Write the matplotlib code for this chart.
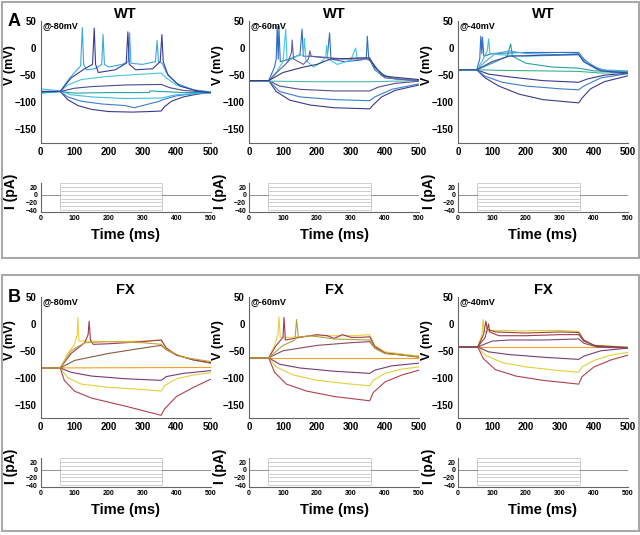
import matplotlib.pyplot as plt
from matplotlib.patches import Rectangle

plt.rcParams['font.family'] = ['Liberation Sans', 'DejaVu Sans']
plt.rcParams['font.weight'] = 'bold'
plt.rcParams['axes.labelweight'] = 'bold'
plt.rcParams['axes.titleweight'] = 'bold'

# ---- voltage traces, (time ms, V mV) points ----
wt_80 = [
    [(0, -80), (58, -80), (80, -95), (110, -106), (150, -113), (200, -117), (270, -118), (320, -117), (355, -116),
     (365, -108), (385, -98), (420, -90), (460, -85), (500, -82)],
    [(0, -83), (58, -80), (80, -90), (120, -98), (180, -103), (250, -106), (275, -110), (300, -106), (350, -98),
     (360, -95), (400, -88), (450, -84), (500, -82)],
    [(0, -75), (58, -79), (90, -86), (150, -90), (250, -93), (355, -92), (400, -86), (500, -82)],
    [(0, -82), (58, -80), (100, -83), (200, -82), (320, -82), (322, -79), (355, -80), (420, -82), (500, -82)],
    [(0, -80), (58, -80), (100, -74), (150, -71), (250, -68), (355, -67), (380, -73), (420, -78), (500, -82)],
    [(0, -80), (58, -80), (80, -68), (120, -58), (200, -52), (300, -48), (355, -46), (370, -55), (400, -68),
     (450, -77), (500, -81)],
    [(0, -80), (58, -80), (80, -60), (100, -45), (118, -33), (123, 38), (127, -30), (135, -40), (160, -38),
     (180, -30), (184, 25), (188, -30), (200, -35), (240, -30), (258, -25), (262, 28), (266, -28), (300, -30),
     (338, -25), (343, 14), (347, -25), (358, -28), (370, -45), (400, -65), (450, -77), (500, -81)],
    [(0, -80), (58, -80), (90, -55), (130, -38), (153, -30), (158, 37), (162, -30), (170, -45), (220, -40),
     (252, -28), (257, 30), (261, -30), (280, -40), (330, -38), (352, -25), (357, 25), (361, -25), (375, -50),
     (410, -70), (460, -79), (500, -82)],
]
wt_80_colors = ['#3a3a8c', '#3a7ed0', '#3cc0e0', '#2aa0a8', '#4a4a90', '#40c8d8', '#3aa8e0', '#3a3a9a']

wt_60 = [
    [(0, -60), (58, -60), (80, -80), (120, -96), (180, -105), (250, -110), (355, -112), (365, -105), (390, -90),
     (430, -78), (500, -68)],
    [(0, -60), (58, -60), (90, -80), (150, -90), (250, -95), (355, -97), (370, -90), (420, -76), (500, -66)],
    [(0, -60), (58, -60), (90, -70), (150, -76), (250, -79), (355, -79), (380, -72), (430, -65), (500, -61)],
    [(0, -61), (58, -61), (200, -62), (355, -62), (500, -60)],
    [(0, -60), (58, -60), (75, -35), (80, -20), (83, 40), (86, -20), (88, 40), (92, -25), (120, -20), (150, -12),
     (156, 35), (160, -15), (180, -15), (230, -18), (237, 28), (241, -20), (280, -25), (330, -22), (345, -18),
     (348, 22), (352, -18), (370, -40), (400, -55), (500, -60)],
    [(0, -60), (58, -60), (80, -45), (100, -25), (108, 35), (112, -25), (140, -15), (160, -12), (163, 18),
     (167, -22), (190, -35), (215, -25), (226, -15), (228, 5), (232, -20), (260, -30), (300, -22), (310, -5),
     (314, 0), (318, -20), (345, -20), (360, -25), (380, -45), (420, -55), (500, -60)],
    [(0, -60), (58, -60), (90, -40), (115, -25), (125, -8), (127, 15), (131, -20), (160, -30), (175, -20),
     (179, -5), (183, -15), (240, -18), (280, -20), (350, -20), (365, -28), (390, -50), (430, -57), (500, -60)],
    [(0, -60), (58, -60), (100, -45), (160, -35), (200, -30), (240, -20), (260, -20), (330, -18), (355, -18),
     (370, -35), (400, -52), (500, -58)],
]
wt_60_colors = ['#3a3a8c', '#3a7ed0', '#5a4a90', '#50b8b0', '#2f6fc8', '#40c8e0', '#6a5a9a', '#3a3a7a']

wt_40 = [
    [(0, -40), (55, -40), (80, -55), (120, -70), (180, -85), (250, -95), (355, -101), (365, -92), (390, -75),
     (430, -62), (500, -51)],
    [(0, -40), (55, -40), (80, -52), (130, -63), (200, -70), (300, -75), (355, -77), (370, -70), (420, -55),
     (500, -47)],
    [(0, -40), (55, -40), (90, -48), (150, -53), (250, -60), (355, -63), (380, -57), (430, -50), (500, -46)],
    [(0, -40), (55, -40), (120, -41), (250, -42), (355, -43), (420, -46), (500, -45)],
    [(0, -40), (55, -40), (64, -20), (67, 22), (70, -10), (72, 20), (76, -15), (100, -10), (200, -8), (300, -8),
     (355, -8), (370, -20), (400, -35), (450, -44), (500, -45)],
    [(0, -40), (55, -40), (70, -25), (86, -5), (90, 17), (94, -10), (120, -12), (200, -15), (355, -12),
     (370, -25), (410, -40), (500, -44)],
    [(0, -40), (55, -40), (80, -25), (110, -10), (150, -5), (200, -10), (300, -12), (355, -10), (370, -22),
     (420, -40), (500, -42)],
    [(0, -40), (55, -40), (100, -28), (145, -15), (155, 8), (160, -15), (200, -28), (280, -35), (355, -37),
     (400, -42), (500, -44)],
    [(0, -40), (55, -40), (100, -25), (150, -15), (250, -13), (355, -12), (370, -25), (420, -42), (500, -46)],
]
wt_40_colors = ['#3a3a8c', '#3a7ed0', '#3a3a90', '#40b090', '#2f6fc8', '#3cc0e0', '#58a8e0', '#2aa0a8', '#3a4a9a']

fx_80 = [
    [(0, -82), (500, -81)],
    [(0, -82), (58, -82), (90, -90), (150, -97), (250, -102), (355, -105), (370, -98), (420, -92), (500, -87)],
    [(0, -82), (58, -82), (80, -100), (120, -112), (200, -118), (300, -122), (355, -125), (365, -115),
     (400, -102), (450, -95), (500, -91)],
    [(0, -82), (58, -82), (70, -105), (100, -125), (150, -138), (250, -153), (355, -170), (365, -158),
     (400, -135), (450, -118), (500, -103)],
    [(0, -82), (58, -82), (100, -68), (200, -55), (300, -45), (355, -40), (370, -48), (400, -58), (450, -67),
     (500, -73)],
    [(0, -82), (58, -82), (80, -55), (100, -38), (108, -20), (110, 12), (113, -32), (130, -32), (200, -33),
     (300, -32), (355, -30), (370, -45), (400, -58), (450, -67), (500, -72)],
    [(0, -82), (58, -82), (90, -55), (130, -35), (140, -20), (143, 5), (147, -30), (155, -38), (200, -37),
     (300, -33), (355, -30), (370, -45), (400, -58), (450, -67), (500, -72)],
    [(0, -82), (58, -82), (90, -50), (130, -35), (200, -33), (300, -35), (355, -38), (370, -48), (420, -62),
     (500, -70)],
]
fx_80_colors = ['#f0a020', '#7a3a70', '#e0d040', '#b04050', '#8a5a40', '#e8d040', '#9a3a50', '#c0a040']

fx_60 = [
    [(0, -63), (500, -63)],
    [(0, -63), (58, -63), (90, -75), (150, -82), (250, -88), (355, -92), (370, -86), (420, -78), (500, -73)],
    [(0, -63), (58, -63), (80, -80), (130, -95), (200, -105), (300, -112), (355, -115), (365, -105), (400, -92),
     (450, -84), (500, -80)],
    [(0, -63), (58, -63), (75, -90), (110, -112), (170, -125), (250, -135), (355, -143), (365, -128),
     (400, -108), (450, -95), (500, -86)],
    [(0, -63), (58, -63), (100, -50), (200, -40), (300, -35), (355, -33), (370, -45), (400, -55), (500, -60)],
    [(0, -63), (58, -63), (75, -40), (85, -20), (88, 13), (92, -25), (120, -25), (200, -22), (300, -22),
     (355, -20), (370, -40), (400, -52), (500, -60)],
    [(0, -63), (58, -63), (80, -40), (100, -25), (103, 12), (107, -30), (150, -25), (200, -20), (230, -22),
     (250, -27), (275, -20), (300, -25), (330, -25), (355, -24), (370, -42), (400, -54), (500, -62)],
    [(0, -63), (58, -63), (100, -40), (135, -30), (140, 8), (145, -25), (180, -22), (250, -28), (355, -30),
     (370, -45), (400, -55), (500, -61)],
]
fx_60_colors = ['#f0a020', '#7a3a70', '#e0d040', '#b04050', '#8a4a60', '#e8d040', '#9a3a50', '#b0a040']

fx_40 = [
    [(0, -43), (500, -43)],
    [(0, -43), (58, -43), (90, -52), (150, -57), (250, -62), (355, -66), (370, -60), (420, -50), (500, -45)],
    [(0, -43), (58, -43), (80, -58), (130, -72), (200, -80), (300, -87), (355, -90), (365, -80), (400, -68),
     (450, -58), (500, -53)],
    [(0, -43), (58, -43), (75, -65), (110, -85), (170, -97), (250, -105), (355, -112), (365, -98), (400, -80),
     (450, -67), (500, -58)],
    [(0, -43), (58, -43), (70, -20), (74, 8), (78, -15), (100, -12), (200, -13), (300, -12), (355, -14),
     (370, -30), (400, -40), (500, -43)],
    [(0, -43), (58, -43), (75, -20), (82, 5), (86, -10), (110, -15), (200, -17), (300, -15), (355, -16),
     (370, -30), (400, -40), (500, -44)],
    [(0, -43), (58, -43), (80, -25), (90, 0), (93, -15), (120, -22), (200, -22), (300, -20), (355, -20),
     (370, -32), (410, -42), (500, -44)],
    [(0, -43), (58, -43), (100, -32), (150, -30), (250, -30), (355, -28), (370, -36), (410, -43), (500, -45)],
]
fx_40_colors = ['#f0a020', '#7a3a70', '#e0d040', '#b04050', '#e8c840', '#8a4a30', '#a03a50', '#7a4a6a']

# ---- current command steps ----
i_levels = [-40, -30, -20, -10, 0, 10, 20, 30]
step_on, step_off, t_end = 57, 358, 500

holds = ['@-80mV', '@-60mV', '@-40mV']
W, H = 640, 535
col_left = [40.5, 249, 458]
col_w = 170


def px_axes(left, top, bottom):
    return fig.add_axes([left / W, 1 - bottom / H, col_w / W, (bottom - top) / H])


def style(ax, fs):
    for s in ['top', 'right']:
        ax.spines[s].set_visible(False)
    for s in ['left', 'bottom']:
        ax.spines[s].set_color('#666666')
        ax.spines[s].set_linewidth(0.8)
    ax.tick_params(length=0, labelsize=fs, pad=3)


fig = plt.figure(figsize=(W / 100, H / 100), dpi=100)

panels = [
    ('WT', 'A', [wt_80, wt_60, wt_40], [wt_80_colors, wt_60_colors, wt_40_colors], 21, 143, 183, 212),
    ('FX', 'B', [fx_80, fx_60, fx_40], [fx_80_colors, fx_60_colors, fx_40_colors], 297, 418, 458, 487),
]

for title, letter, groups, cgroups, vt, vb, it, ib in panels:
    for j in range(3):
        ax = px_axes(col_left[j], vt, vb)
        for trace, c in zip(groups[j], cgroups[j]):
            t = [p[0] for p in trace]
            v = [p[1] for p in trace]
            ax.plot(t, v, color=c, lw=0.8)
        ax.set_xlim(0, 500)
        ax.set_ylim(-175, 50)
        ax.set_xticks(range(0, 501, 100))
        ax.set_yticks([-150, -100, -50, 0, 50])
        style(ax, 7)
        ax.set_title(title, fontsize=10.5, pad=1)
        ax.set_ylabel('V (mV)', fontsize=9)
        ax.yaxis.set_label_coords(-0.145, 0.64)
        ax.text(0.01, 1.0, holds[j], transform=ax.transAxes, fontsize=6.5, va='top', ha='left')

        axi = px_axes(col_left[j], it, ib)
        for lvl in i_levels:
            axi.plot([step_on, step_on, step_off, step_off], [0, lvl, lvl, 0], color='#c8c8c8', lw=0.6)
        axi.plot([0, step_on], [0, 0], color='#909090', lw=0.7)
        axi.plot([step_off, t_end], [0, 0], color='#909090', lw=0.7)
        axi.set_xlim(0, 500)
        axi.set_ylim(-45, 31)
        axi.set_xticks(range(0, 501, 100))
        axi.set_yticks([-40, -20, 0, 20])
        style(axi, 5)
        axi.tick_params(pad=2)
        axi.set_ylabel('I (pA)', fontsize=10)
        axi.yaxis.set_label_coords(-0.13, 0.7)
        axi.set_xlabel('Time (ms)', fontsize=10.5)
        axi.xaxis.set_label_coords(0.5, -0.55)

    fig.text(8 / W, 1 - (vt + 1) / H, letter, fontsize=13, fontweight='bold', ha='left', va='center')

# gray frames round the two panels
fig.patches.append(Rectangle((1.5 / W, 1 - 258 / H), 637 / W, 256 / H, transform=fig.transFigure,
                             fill=False, edgecolor='#a8a8a8', lw=1.5))
fig.patches.append(Rectangle((1.5 / W, 1 - 531 / H), 637 / W, 256 / H, transform=fig.transFigure,
                             fill=False, edgecolor='#a8a8a8', lw=1.5))

fig.savefig('out.png', dpi=100)
